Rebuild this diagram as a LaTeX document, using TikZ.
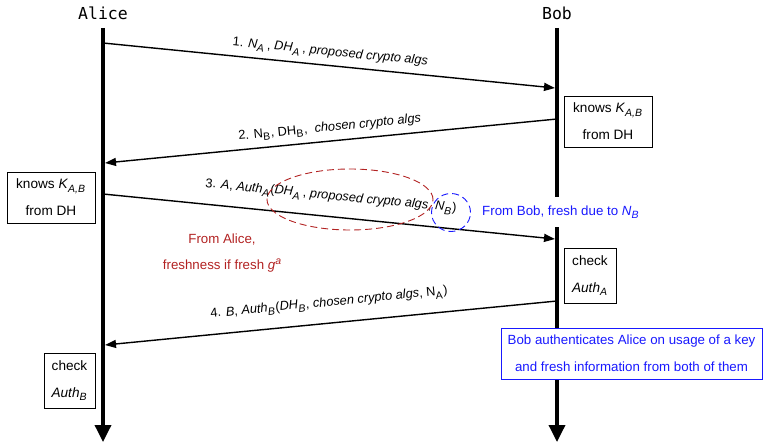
\documentclass[tikz,border=0pt]{standalone}
\usepackage{fontspec}
\setmainfont{Liberation Sans}
\newfontfamily\monofont{DejaVu Sans Mono}
\usetikzlibrary{arrows.meta,shapes.geometric}
\definecolor{darkred}{RGB}{178,34,34}
\definecolor{myblue}{RGB}{25,25,255}
\newcommand\sbs[1]{\raisebox{-3.3pt}{\fontsize{10.5}{11}\selectfont #1}\kern0.8pt}
\newcommand\sps[1]{\raisebox{5pt}{\fontsize{10.5}{11}\selectfont #1}}
\begin{document}
\begin{tikzpicture}[x=1pt,y=-1pt,
  actor/.style={font=\monofont\fontsize{16.5}{18}\selectfont, inner sep=0pt},
  lifeline/.style={line width=3.5pt, -{Triangle[length=17pt,width=16pt]}},
  msg/.style={line width=1.4pt, -{Triangle[length=11pt,width=8pt]}},
  msglabel/.style={font=\fontsize{12.8}{14}\selectfont, sloped, above=6pt, midway, inner sep=0pt},
  notebox/.style={draw, line width=0.8pt, fill=white, align=center, font=\fontsize{13.6}{27}\selectfont, inner sep=0pt},
  redell/.style={ellipse, draw=darkred, line width=0.9pt, dash pattern=on 7pt off 4pt, inner sep=0pt},
  blueell/.style={ellipse, draw=myblue, line width=0.9pt, dash pattern=on 7pt off 4pt, inner sep=0pt},
]
\useasboundingbox (0,0) rectangle (763,444);

% actors
\node[actor] (alice) at (103,13) {Alice};
\node[actor] (bob) at (557,13) {Bob};
\coordinate (atop) at (103,28);
\coordinate (abot) at (103,442);
\coordinate (btop) at (557,28);
\coordinate (bbot) at (557,442);
\draw[lifeline] (atop) -- (abot);
\draw[lifeline] (btop) -- (bbot);

% message end points
\coordinate (a1) at (103,43);  \coordinate (b1) at (555,88);
\coordinate (b2) at (557,119); \coordinate (a2) at (105,163);
\coordinate (a3) at (103,194); \coordinate (b3) at (555,239);
\coordinate (b4) at (557,301); \coordinate (a4) at (105,345);

\draw[msg] (a1) -- (b1) node[msglabel] {1. \textit{N}\sbs{\textit{A}}\,,\ \textit{DH}\sbs{\textit{A}}\,,\ \textit{proposed crypto algs}};
\draw[msg] (b2) -- (a2) node[msglabel] {2. N\sbs{B}, DH\sbs{B}, \ \textit{chosen crypto algs}};
\draw[msg] (a3) -- (b3) node[msglabel, above=7pt] {3. \textit{A}, \textit{Auth}\sbs{\textit{A}}(\textit{DH}\sbs{\textit{A}}\,, \textit{proposed crypto algs}, \textit{N}\sbs{\textit{B}})};
\draw[msg] (b4) -- (a4) node[msglabel, above=7pt] {4. \textit{B}, \textit{Auth}\sbs{\textit{B}}(\textit{DH}\sbs{\textit{B}}, \textit{chosen crypto algs}, N\sbs{A})};

% annotation ellipses
\node[redell, minimum width=166pt, minimum height=61pt] (rell) at (350,199.5) {};
\node[blueell, minimum width=39pt, minimum height=38pt] (bell) at (451,212.5) {};

% notes
\node[notebox, minimum width=88pt, minimum height=51pt] (bknows) at (608,121.5) {knows \textit{K}\sbs{\textit{A,B}}\\from DH};
\node[notebox, minimum width=88pt, minimum height=51pt] (aknows) at (51,197.5) {knows \textit{K}\sbs{\textit{A,B}}\\from DH};
\node[notebox, minimum width=52pt, minimum height=55pt] (bcheck) at (590,275.5) {check\\\textit{Auth}\sbs{\textit{A}}};
\node[notebox, minimum width=51pt, minimum height=55pt] (acheck) at (69.5,380.5) {check\\\textit{Auth}\sbs{\textit{B}}};

\node[anchor=west, fill=white, text=myblue, font=\fontsize{13.3}{15}\selectfont, inner xsep=2pt, inner ysep=9pt] (frombob) at (480,212) {From Bob, fresh due to \textit{N}\sbs{\textit{B}}};
\node[align=center, text=darkred, font=\fontsize{13.3}{26}\selectfont, inner sep=0pt] (fromalice) at (222,253) {From Alice,\\freshness if fresh \textit{g}\sps{\textit{a}}};
\node[notebox, draw=myblue, text=myblue, font=\fontsize{13.3}{27}\selectfont, minimum width=261pt, minimum height=51pt] (bobauth) at (631.5,353.5) {Bob authenticates Alice on usage of a key\\and fresh information from both of them};
\end{tikzpicture}
\end{document}
